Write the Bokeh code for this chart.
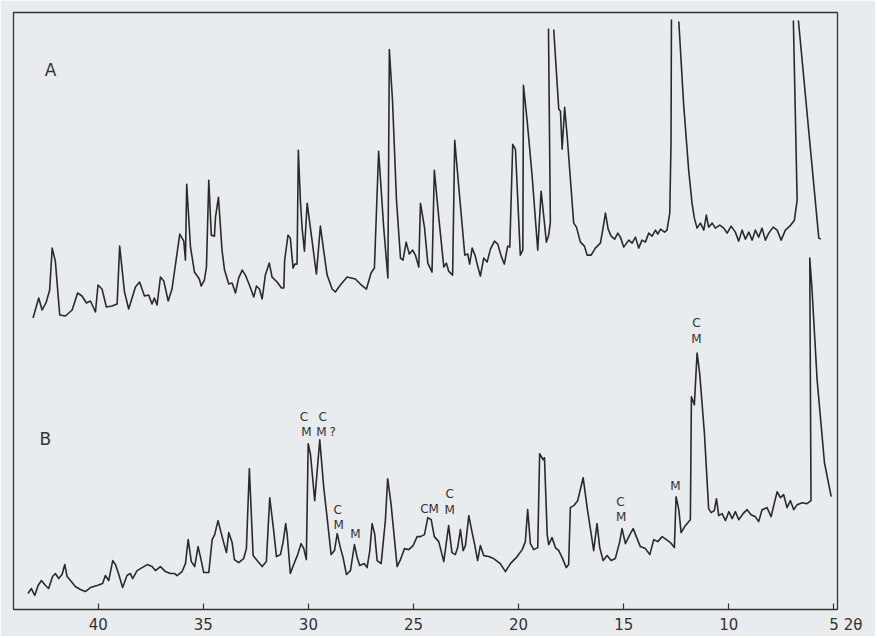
import numpy as np
from bokeh.plotting import figure
from bokeh.models import Range1d, FixedTicker
from bokeh.core.properties import value
from bokeh.embed import file_html
from bokeh.resources import INLINE

nan = float("nan")

# ---- trace A (upper diffractogram): 2-theta (deg) and intensity (arbitrary units) ----
a_2theta = [43.10, 42.83, 42.67, 42.47, 42.31, 42.19, 42.04, 41.83, 41.56, 41.24, 40.98, 40.77, 40.56, 40.37, 40.13,
            40.01, 39.82, 39.61, 39.34, 39.10, 38.98, 38.75, 38.55, 38.23, 38.03, 37.80, 37.60, 37.44, 37.33, 37.20,
            37.04, 36.88, 36.67, 36.49, 36.12, 35.93, 35.85, 35.79, 35.61, 35.42, 35.19, 35.10, 34.95, 34.85, 34.74,
            34.62, 34.47, 34.42, 34.28, 34.11, 33.99, 33.79, 33.63, 33.47, 33.32, 33.15, 33.00, 32.79, 32.60, 32.47,
            32.33, 32.20, 32.05, 31.86, 31.73, 31.49, 31.28, 31.17, 31.13, 30.97, 30.86, 30.73, 30.65, 30.54, 30.48,
            30.38, 30.30, 30.19, 30.06, 29.91, 29.62, 29.43, 29.27, 29.11, 28.87, 28.72, 28.48, 28.16, 27.77, 27.53,
            27.24, 27.02, 26.86, 26.66, 26.42, 26.22, 26.15, 26.00, 25.81, 25.62, 25.50, 25.35, 25.20, 25.04, 24.91,
            24.75, 24.67, 24.48, 24.32, 24.12, 24.01, 23.80, 23.56, 23.44, 23.33, 23.14, 23.04, 22.85, 22.56, 22.42,
            22.33, 22.21, 22.06, 21.95, 21.82, 21.66, 21.50, 21.34, 21.15, 20.99, 20.83, 20.68, 20.52, 20.42, 20.28,
            20.15, 19.92, 19.80, 19.77, 19.60, 19.36, 19.09, 18.93, 18.81, 18.68, 18.57, 18.49, 18.58, nan,
            18.33, 18.09, 18.01, 17.93, 17.81, 17.69, 17.38, 17.25, 17.06, 16.87, 16.74, 16.55, 16.35, 16.11, 16.00,
            15.87, 15.74, 15.60, 15.43, 15.28, 15.16, 15.00, 14.76, 14.60, 14.44, 14.29, 14.13, 13.97, 13.81, 13.65,
            13.49, 13.38, 13.25, 13.06, 12.94, 12.81, 12.75, 12.73, nan,
            12.38, 12.15, 11.91, 11.75, 11.64, 11.51, 11.35, 11.19, 11.07, 10.96, 10.79, 10.64, 10.43, 10.24, 10.08,
            9.89, 9.69, 9.53, 9.37, 9.21, 9.05, 8.89, 8.74, 8.58, 8.42, 8.26, 8.10, 7.89, 7.70, 7.51,
            7.31, 7.10, 6.99, 6.88, 6.75, 6.93, nan,
            6.69, 5.72, 5.62]
a_int = [292, 312, 300, 308, 320, 362, 349, 295, 294, 300, 317, 314, 307, 309, 298,
         325, 321, 303, 304, 306, 364, 318, 301, 323, 328, 314, 315, 306, 312, 305,
         333, 329, 309, 321, 376, 369, 350, 426, 363, 338, 331, 324, 330, 343, 430,
         375, 374, 393, 413, 360, 340, 326, 327, 317, 332, 340, 335, 324, 313, 324,
         321, 311, 335, 347, 333, 328, 322, 322, 350, 375, 372, 342, 346, 346, 460,
         409, 382, 359, 407, 383, 336, 384, 359, 335, 321, 318, 325, 333, 331, 326,
         321, 337, 342, 459, 383, 332, 561, 510, 410, 352, 350, 368, 356, 360, 355,
         343, 407, 383, 347, 338, 440, 393, 343, 347, 339, 335, 470, 424, 355, 356,
         346, 362, 354, 344, 334, 352, 348, 361, 369, 366, 354, 346, 364, 363, 466,
         461, 355, 360, 525, 491, 435, 360, 419, 395, 368, 375, 388, 582, nan,
         581, 501, 499, 461, 503, 474, 387, 383, 368, 364, 355, 355, 362, 367, 380,
         397, 381, 374, 371, 377, 373, 363, 370, 367, 373, 362, 370, 368, 377, 374,
         380, 376, 381, 378, 380, 397, 467, 591, nan,
         589, 506, 440, 407, 392, 382, 387, 380, 395, 383, 387, 382, 385, 382, 377,
         384, 378, 369, 380, 371, 378, 370, 380, 373, 382, 370, 377, 383, 380, 370,
         380, 384, 387, 390, 410, 590, nan,
         590, 372, 371]

# ---- trace B (lower diffractogram) ----
b_2theta = [43.34, 43.18, 43.02, 42.86, 42.70, 42.51, 42.36, 42.17, 42.04, 41.88, 41.72, 41.59, 41.48, 41.28, 41.09,
            40.85, 40.61, 40.37, 40.05, 39.79, 39.66, 39.50, 39.31, 39.18, 39.02, 38.84, 38.63, 38.47, 38.36, 38.15,
            37.91, 37.67, 37.44, 37.28, 37.04, 36.80, 36.57, 36.36, 36.25, 36.01, 35.85, 35.72, 35.57, 35.41, 35.25,
            35.14, 34.98, 34.74, 34.58, 34.46, 34.30, 34.19, 34.03, 33.90, 33.79, 33.63, 33.52, 33.32, 33.08, 32.95,
            32.81, 32.63, 32.44, 32.20, 32.00, 31.84, 31.68, 31.52, 31.33, 31.20, 31.08, 31.01, 30.86, 30.70, 30.51,
            30.35, 30.22, 30.10, 30.01, 29.90, 29.70, 29.46, 29.27, 29.11, 28.92, 28.76, 28.63, 28.48, 28.35, 28.19,
            28.00, 27.81, 27.68, 27.56, 27.34, 27.21, 27.08, 26.97, 26.85, 26.73, 26.54, 26.34, 26.23, 26.07, 25.78,
            25.62, 25.43, 25.23, 25.02, 24.83, 24.67, 24.48, 24.32, 24.16, 24.01, 23.80, 23.56, 23.33, 23.17, 23.01,
            22.90, 22.77, 22.64, 22.53, 22.37, 22.25, 22.10, 21.95, 21.82, 21.66, 21.42, 21.19, 20.87, 20.63, 20.39,
            20.07, 19.83, 19.68, 19.57, 19.44, 19.28, 19.09, 19.00, 18.83, 18.77, 18.64, 18.57, 18.41, 18.25, 18.09,
            17.93, 17.73, 17.62, 17.54, 17.38, 17.19, 16.93, 16.74, 16.55, 16.43, 16.27, 16.14, 15.98, 15.79, 15.60,
            15.40, 15.19, 15.08, 14.92, 14.71, 14.55, 14.40, 14.21, 13.97, 13.76, 13.57, 13.38, 13.17, 12.97, 12.78,
            12.59, 12.51, 12.38, 12.27, 12.07, 11.83, 11.78, 11.64, 11.51, 11.38, 11.16, 10.96, 10.84, 10.69, 10.59,
            10.48, 10.32, 10.16, 10.00, 9.84, 9.69, 9.53, 9.32, 9.13, 8.94, 8.74, 8.58, 8.42, 8.18, 7.99,
            7.83, 7.70, 7.55, 7.39, 7.23, 7.07, 6.91, 6.75, 6.51, 6.28, 6.09, 6.15, 6.04, 5.80, 5.45,
            5.13]
b_int = [16, 21, 14, 24, 29, 24, 21, 33, 36, 31, 35, 45, 33, 28, 23,
         20, 18, 22, 24, 26, 34, 29, 49, 45, 35, 22, 34, 36, 31, 39,
         42, 45, 43, 39, 43, 38, 36, 36, 34, 38, 46, 70, 48, 43, 63,
         53, 37, 37, 70, 75, 89, 80, 67, 57, 77, 67, 50, 47, 51, 61,
         141, 54, 49, 43, 48, 112, 84, 53, 55, 68, 86, 75, 36, 45, 55,
         66, 61, 50, 166, 155, 109, 170, 122, 92, 55, 59, 76, 62, 52, 35,
         39, 65, 52, 44, 46, 42, 59, 86, 76, 49, 46, 89, 131, 106, 43,
         50, 61, 60, 64, 73, 73, 75, 92, 90, 73, 68, 48, 84, 57, 55,
         62, 80, 59, 64, 94, 81, 66, 49, 64, 54, 53, 51, 46, 38, 46,
         53, 60, 68, 100, 66, 60, 62, 156, 150, 152, 75, 65, 72, 62, 59,
         52, 42, 45, 102, 104, 109, 132, 102, 76, 59, 86, 62, 49, 54, 49,
         51, 68, 81, 66, 75, 81, 73, 63, 61, 55, 70, 68, 73, 70, 67,
         62, 113, 100, 77, 84, 90, 213, 205, 257, 235, 176, 101, 97, 99, 111,
         94, 96, 89, 98, 91, 98, 90, 96, 100, 95, 93, 88, 100, 102, 93,
         107, 118, 112, 115, 102, 109, 100, 105, 107, 106, 109, 352, 320, 230, 147,
         113]

# ---- peak annotations on trace B (C / M) ----
ann_text = ["C", "M", "C", "M", "?", "C", "M", "M", "CM", "C", "M", "C", "M", "M", "C", "M"]
ann_2theta = [30.21, 30.10, 29.32, 29.38, 28.84, 28.61, 28.56, 27.76, 24.24, 23.28, 23.28, 15.16, 15.12, 12.54, 11.54, 11.54]
ann_int = [193, 178, 193, 178, 178, 100, 85, 76, 101, 116, 100, 108, 93, 124, 287, 271]

panel_text = ["A", "B"]
panel_2theta = [42.27, 42.51]
panel_int = [540, 171]

tick_values = [40, 35, 30, 25, 20, 15, 10, 5]
axis_unit = "2θ"

assert len(a_2theta) == len(a_int), (len(a_2theta), len(a_int))
assert len(b_2theta) == len(b_int), (len(b_2theta), len(b_int))

PAPER = "#e8ecee"
INK = "#2a2a2a"

p = figure(width=875, height=636, x_range=Range1d(44.03, 4.83), y_range=Range1d(0, 598),
           output_backend="svg", toolbar_location=None, y_axis_location=None,
           min_border_left=13, min_border_right=38, min_border_top=12, min_border_bottom=26,
           background_fill_color=PAPER, border_fill_color=PAPER)
p.grid.visible = False
p.outline_line_color = "#333333"
p.outline_line_width = 1.3

p.line(np.array(a_2theta), np.array(a_int, dtype=float), line_color=INK, line_width=1.6, line_join="round")
p.line(np.array(b_2theta), np.array(b_int, dtype=float), line_color=INK, line_width=1.6, line_join="round")

p.text(x=ann_2theta, y=ann_int, text=ann_text, text_font=value("DejaVu Sans"), text_font_size="12px",
       text_align="center", text_baseline="middle", text_color="#333333")
p.text(x=panel_2theta, y=panel_int, text=panel_text, text_font=value("DejaVu Sans"), text_font_size="17px",
       text_align="center", text_baseline="middle", text_color="#333333")

ax = p.xaxis[0]
ax.ticker = FixedTicker(ticks=tick_values)
ax.axis_line_color = None
ax.major_tick_in = 6
ax.major_tick_out = 0
ax.major_tick_line_color = "#333333"
ax.major_tick_line_width = 1.2
ax.minor_tick_line_color = None
ax.major_label_standoff = 6
ax.major_label_text_font = "DejaVu Sans"
ax.major_label_text_font_size = "15px"
ax.major_label_text_color = "#333333"
# the last tick carries the axis unit to its right; non-breaking spaces keep "5" centred on its tick
ax.major_label_overrides = {5: "\u00a0" * 5 + "5 " + axis_unit}

open("out.html", "w").write(file_html(p, INLINE))
